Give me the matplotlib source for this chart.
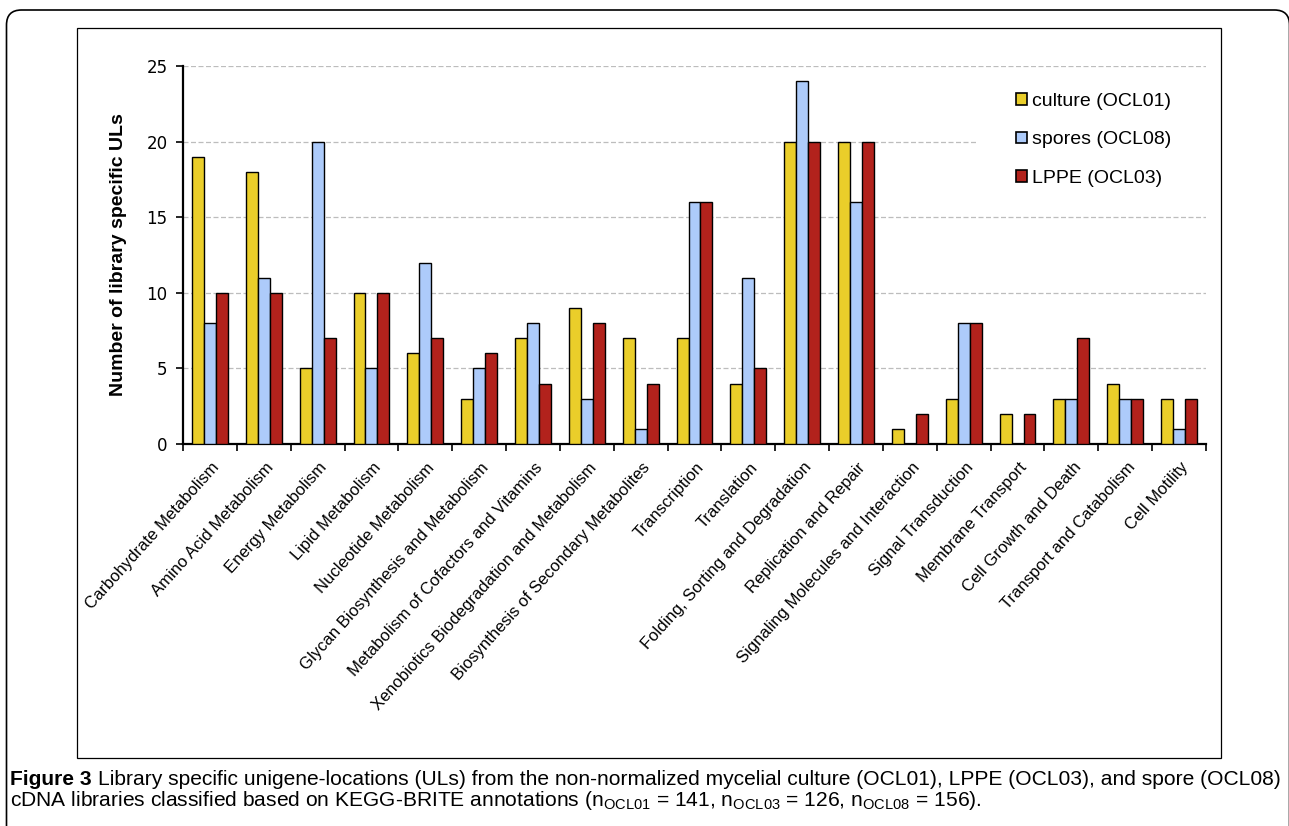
import numpy as np
import matplotlib
matplotlib.use("Agg")
import matplotlib.pyplot as plt
from matplotlib.patches import Patch, Rectangle, FancyBboxPatch
from matplotlib import transforms

categories = ["Carbohydrate Metabolism", "Amino Acid Metabolism", "Energy Metabolism",
              "Lipid Metabolism", "Nucleotide Metabolism", "Glycan Biosynthesis and Metabolism",
              "Metabolism of Cofactors and Vitamins", "Xenobiotics Biodegradation and Metabolism",
              "Biosynthesis of Secondary Metabolites", "Transcription", "Translation",
              "Folding, Sorting and Degradation", "Replication and Repair",
              "Signaling Molecules and Interaction", "Signal Transduction", "Membrane Transport",
              "Cell Growth and Death", "Transport and Catabolism", "Cell Motility"]
culture = [19, 18, 5, 10, 6, 3, 7, 9, 7, 7, 4, 20, 20, 1, 3, 2, 3, 4, 3]
spores  = [8, 11, 20, 5, 12, 5, 8, 3, 1, 16, 11, 24, 16, 0, 8, 0, 3, 3, 1]
lppe    = [10, 10, 7, 10, 7, 6, 4, 8, 4, 16, 5, 20, 20, 2, 8, 2, 7, 3, 3]
series_names = ["culture (OCL01)", "spores (OCL08)", "LPPE (OCL03)"]
colors = ["#EACE2A", "#ADCBFA", "#B2221C"]

sans = ["Liberation Sans", "DejaVu Sans"]

fig = plt.figure(figsize=(12.89, 8.26), dpi=100)
W, H = 1289, 826
# axes box in pixels: x 183..1206, y 66..444 (from top)
ax = fig.add_axes([183 / W, 1 - 444 / H, 1023 / W, 378 / H])

x = np.arange(len(categories))
bw = 0.222
for k, (vals, c) in enumerate(zip([culture, spores, lppe], colors)):
    ax.bar(x + (k - 1) * bw, vals, bw, color=c, edgecolor="black", linewidth=1.0, zorder=3)

ax.set_xlim(-0.5, len(categories) - 0.5)
ax.set_ylim(0, 25)
ax.set_yticks([0, 5, 10, 15, 20, 25])
ax.yaxis.grid(True, linestyle=(0, (4, 2)), color="#bdbdbd", linewidth=0.9)
ax.set_axisbelow(True)
for s in ["top", "right"]:
    ax.spines[s].set_visible(False)
for s in ["left", "bottom"]:
    ax.spines[s].set_linewidth(1.6)
ax.tick_params(axis="y", length=5, width=1.2, labelsize=12, pad=6,
               labelfontfamily="DejaVu Sans")

# group boundaries as ticks, names at group centres
ax.set_xticks(np.arange(-0.5, len(categories)), labels=[])
ax.set_xticks(x, labels=categories, minor=True)
ax.tick_params(axis="x", which="major", length=5, width=1.2)
ax.tick_params(axis="x", which="minor", length=0, pad=15, labelsize=12,
               labelrotation=48, labelfontfamily="Liberation Sans")
shift = transforms.ScaledTranslation(7 / 100, 0, fig.dpi_scale_trans)
for t in ax.get_xticklabels(minor=True):
    t.set_ha("right")
    t.set_va("center")
    t.set_rotation_mode("anchor")
    t.set_transform(t.get_transform() + shift)

ax.set_ylabel("Number of library specific ULs", fontsize=14, fontweight="bold", family=sans)
ax.yaxis.set_label_coords((127 - 183) / 1023, 0.5)

# white area behind legend breaks the gridline
ax.add_patch(Rectangle(((978 - 183) / 1023, (444 - 200) / 378), (1206 - 978) / 1023, 125 / 378,
                       transform=ax.transAxes, facecolor="white", edgecolor="none", zorder=1))
handles = [Patch(facecolor=c, edgecolor="black", linewidth=1.2) for c in colors]
ax.legend(handles, series_names, loc="upper left",
          bbox_to_anchor=((1016 - 183) / 1023, (444 - 93) / 378),
          frameon=False, borderpad=0, borderaxespad=0,
          handlelength=0.55, handleheight=0.55, handletextpad=0.25, labelspacing=1.1,
          prop={"family": sans, "size": 14})

# outer rounded frame and inner box
fig.patches.append(FancyBboxPatch((0.065, -0.5), 12.83, 8.66,
                                  boxstyle="round,pad=0,rounding_size=0.15",
                                  transform=fig.dpi_scale_trans, facecolor="none",
                                  edgecolor="black", linewidth=1.2))
fig.patches.append(Rectangle((0.767, 0.683), 11.443, 7.294, transform=fig.dpi_scale_trans,
                             facecolor="none", edgecolor="black", linewidth=0.9))

# caption
line1 = [("Figure 3", "bold"),
         ("Library specific unigene-locations (ULs) from the non-normalized mycelial culture (OCL01), LPPE (OCL03), and spore (OCL08)", "normal")]
line2 = [(r"cDNA libraries classified based on KEGG-BRITE annotations (n$_{\mathregular{OCL01}}$ = 141, "
          r"n$_{\mathregular{OCL03}}$ = 126, n$_{\mathregular{OCL08}}$ = 156).", "normal")]
renderer = fig.canvas.get_renderer()


def put_line(pieces, x0, y0, size, draw=True):
    xx = x0
    gap = None
    for s, w in pieces:
        t = fig.text(xx / 100, y0 / 100, s, fontsize=size, fontweight=w, family=sans,
                     transform=fig.dpi_scale_trans, va="baseline", ha="left")
        ext = t.get_window_extent(renderer)
        if gap is None:
            probe = fig.text(0, 0, "a a", fontsize=size, family=sans)
            probe2 = fig.text(0, 0, "aa", fontsize=size, family=sans)
            gap = probe.get_window_extent(renderer).width - probe2.get_window_extent(renderer).width
            probe.remove()
            probe2.remove()
        xx += ext.width + gap
        if not draw:
            t.remove()
    return xx - gap


size = 12.5
w = put_line(line1, 10, H - 785, size, draw=False) - 10
size = size * 1270 / w
put_line(line1, 10, H - 785, size)
put_line(line2, 10, H - 806, size)

fig.savefig("out.png", dpi=100)
